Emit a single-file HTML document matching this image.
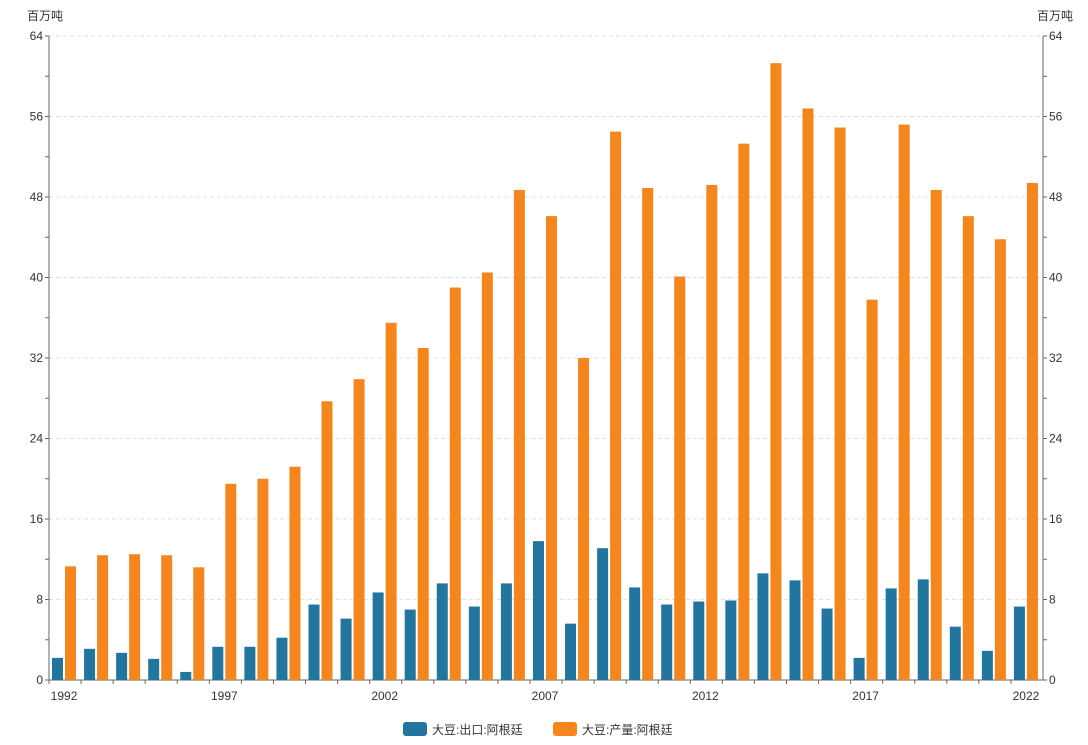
<!DOCTYPE html>
<html><head><meta charset="utf-8"><style>
body{margin:0;background:#fff;font-family:"Liberation Sans","Noto Sans CJK SC",sans-serif;}
svg text{font-family:"Liberation Sans","Noto Sans CJK SC",sans-serif;}
</style></head><body>
<svg id="chart" width="1088" height="740" xmlns="http://www.w3.org/2000/svg">
<g id="grid"></g>
<g id="axes"></g>
<g id="bars"></g>
<text x="27" y="20" font-size="12" fill="#333">百万吨</text>
<text x="1037" y="20" font-size="12" fill="#333">百万吨</text>
<g>
<g><rect x="403" y="722" width="24" height="14" rx="3" fill="#21759f"/><text x="432" y="734" font-size="12" fill="#333">大豆:出口:阿根廷</text></g>
<g><rect x="553" y="722" width="24" height="14" rx="3" fill="#f5861e"/><text x="582" y="734" font-size="12" fill="#333">大豆:产量:阿根廷</text></g>
</g>
</svg>
<script>
const years=[];for(let y=1992;y<=2022;y++)years.push(String(y));
const exportVals=[2.2,3.1,2.7,2.1,0.8,3.3,3.3,4.2,7.5,6.1,8.7,7.0,9.6,7.3,9.6,13.8,5.6,13.1,9.2,7.5,7.8,7.9,10.6,9.9,7.1,2.2,9.1,10.0,5.3,2.9,7.3];
const prodVals=[11.3,12.4,12.5,12.4,11.2,19.5,20.0,21.2,27.7,29.9,35.5,33.0,39.0,40.5,48.7,46.1,32.0,54.5,48.9,40.1,49.2,53.3,61.3,56.8,54.9,37.8,55.2,48.7,46.1,43.8,49.4];
const yTicks=[0,8,16,24,32,40,48,56,64];
const NS="http://www.w3.org/2000/svg";
const L=49,R=1043,T=36,B=680,yMax=64;
const bw=(R-L)/years.length;
const yS=v=>B-(v/yMax)*(B-T);
const xS=i=>L+bw*i;
function mk(tag,attrs,parent,text){const e=document.createElementNS(NS,tag);for(const k in attrs)e.setAttribute(k,attrs[k]);if(text!==undefined)e.textContent=text;parent.appendChild(e);return e;}
const grid=document.getElementById('grid'),axes=document.getElementById('axes'),bars=document.getElementById('bars');
yTicks.forEach(t=>{
 if(t>0){const g=mk('line',{x1:L,x2:R,y1:yS(t),y2:yS(t),stroke:'#e0e0e0','stroke-dasharray':'4,3'},grid);
 
 }
 const a=mk('text',{x:L-6,y:yS(t)+4,'text-anchor':'end','font-size':12,fill:'#333'},axes,String(t));
 
 
 const b=mk('text',{x:R+6,y:yS(t)+4,'text-anchor':'start','font-size':12,fill:'#333'},axes,String(t));
 
 
});
for(let v=0;v<=64;v+=4){
 mk('line',{x1:L-4,x2:L,y1:yS(v),y2:yS(v),stroke:'#666'},axes);
 mk('line',{x1:R,x2:R+4,y1:yS(v),y2:yS(v),stroke:'#666'},axes);
}
mk('line',{x1:L,x2:L,y1:T,y2:B,stroke:'#666'},axes);
mk('line',{x1:R,x2:R,y1:T,y2:B,stroke:'#666'},axes);
mk('line',{x1:L,x2:R,y1:B,y2:B,stroke:'#666'},axes);
years.forEach((y,i)=>{
 mk('line',{x1:xS(i),x2:xS(i),y1:B,y2:B+4,stroke:'#666'},axes);
 if(i%5===0){const t=mk('text',{x:xS(i)+bw/2-1,y:B+20,'text-anchor':'middle','font-size':12,fill:'#333'},axes,y);
 
 }
 const w=11;
 const bx=xS(i)+3;
 const r1=mk('rect',{x:bx,y:yS(exportVals[i]),width:w,height:B-yS(exportVals[i]),fill:'#21759f'},bars);
 
 
 const r2=mk('rect',{x:bx+w+2,y:yS(prodVals[i]),width:w,height:B-yS(prodVals[i]),fill:'#f5861e'},bars);
 
 
});
</script>
</body></html>
